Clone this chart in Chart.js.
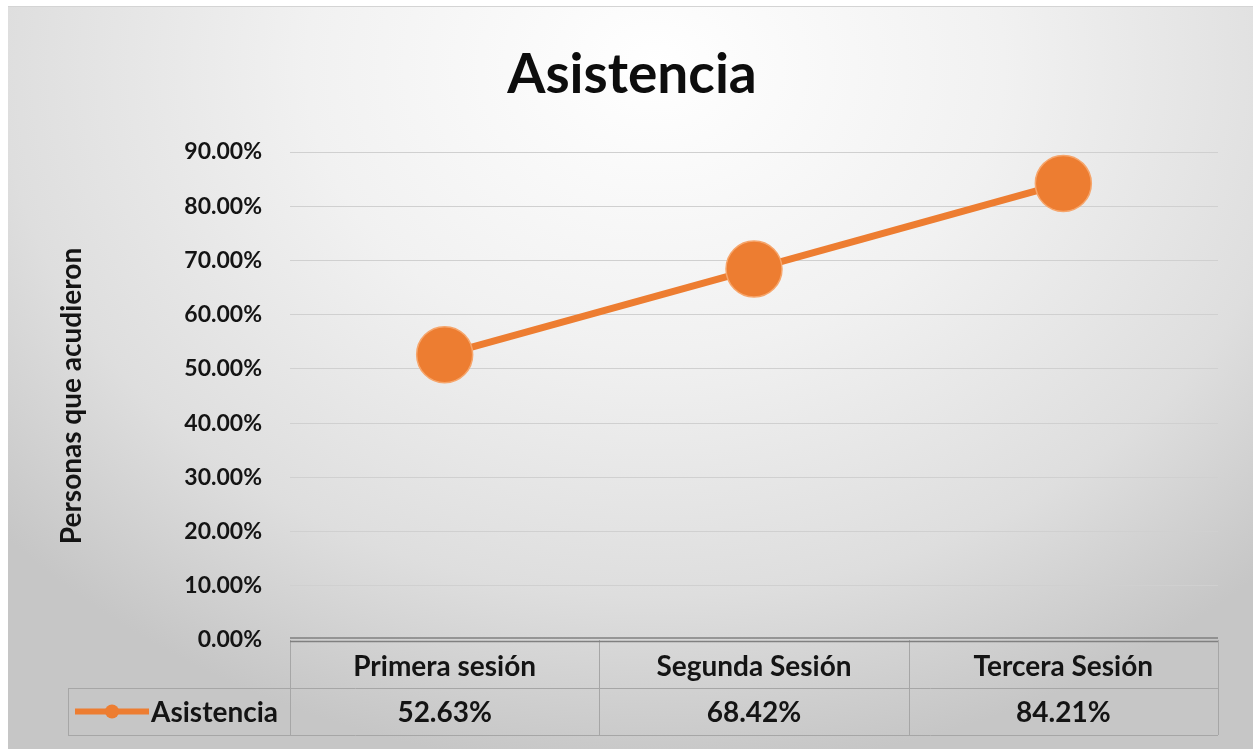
<!DOCTYPE html>
<html lang="es">
<head>
    <meta charset="UTF-8">
    <title>Asistencia</title>
    <style>
        html, body {
            margin: 0;
            padding: 0;
            background: #ffffff;
            overflow: hidden;
        }

        #chartBox {
            position: absolute;
            left: 8px;
            top: 6px;
            width: 1245px;
            height: 743px;
            border-top: 1px solid #d4d4d4;
            background: radial-gradient(ellipse 70% 95% at 52% 8%, #ffffff 0%, #f1f1f1 40%, #dedede 75%, #c6c6c6 100%);
        }

        #asistenciaChart {
            position: absolute;
            left: 0;
            top: 0;
        }
    </style>
    <script src="https://cdn.jsdelivr.net/npm/chart.js"></script>
</head>
<body>
    <div id="chartBox"></div>
    <canvas id="asistenciaChart" width="1253" height="749"></canvas>

<script>
    // Datos de la gráfica
    const categories = ['Primera sesión', 'Segunda Sesión', 'Tercera Sesión'];
    const asistencia = [0.5263, 0.6842, 0.8421];
    const valueLabels = ['52.63%', '68.42%', '84.21%'];
    const seriesName = 'Asistencia';

    const orange = '#ED7D31';
    const fontFamily = 'Lato, "Open Sans", sans-serif';
    const textColor = '#141414';

    // Tabla de datos debajo del eje X (estilo Excel)
    const dataTablePlugin = {
        id: 'dataTable',
        afterDraw(chart) {
            const ctx = chart.ctx;
            const area = chart.chartArea;
            const x = chart.scales.x;
            const colW = (area.right - area.left) / categories.length;
            const headTop = area.bottom + 3;
            const headBottom = headTop + 45;
            const rowBottom = headBottom + 47;
            const legendLeft = 68;

            ctx.save();

            // lineas finas de la tabla
            ctx.strokeStyle = '#a6a6a6';
            ctx.lineWidth = 1;
            ctx.beginPath();
            ctx.moveTo(legendLeft, headBottom + 0.5);
            ctx.lineTo(area.right, headBottom + 0.5);
            ctx.moveTo(legendLeft, rowBottom + 0.5);
            ctx.lineTo(area.right, rowBottom + 0.5);
            ctx.moveTo(legendLeft + 0.5, headBottom);
            ctx.lineTo(legendLeft + 0.5, rowBottom);
            for (let i = 0; i <= categories.length; i++) {
                const cx = Math.round(area.left + i * colW) + 0.5;
                ctx.moveTo(cx, area.bottom);
                ctx.lineTo(cx, rowBottom);
            }
            ctx.stroke();

            // doble linea del eje horizontal
            ctx.strokeStyle = '#808080';
            ctx.lineWidth = 1.5;
            ctx.beginPath();
            ctx.moveTo(area.left, area.bottom - 2);
            ctx.lineTo(area.right, area.bottom - 2);
            ctx.moveTo(area.left, area.bottom + 1.5);
            ctx.lineTo(area.right, area.bottom + 1.5);
            ctx.stroke();

            // textos
            ctx.fillStyle = textColor;
            ctx.font = 'bold 28px ' + fontFamily;
            ctx.textAlign = 'center';
            ctx.textBaseline = 'middle';
            categories.forEach((c, i) => {
                const cx = x.getPixelForValue(i);
                ctx.fillText(c, cx, (headTop + headBottom) / 2 + 1);
                ctx.fillText(valueLabels[i], cx, (headBottom + rowBottom) / 2 + 1);
            });

            // clave de leyenda
            const ly = (headBottom + rowBottom) / 2;
            ctx.strokeStyle = orange;
            ctx.lineWidth = 6;
            ctx.beginPath();
            ctx.moveTo(75, ly);
            ctx.lineTo(149, ly);
            ctx.stroke();
            ctx.fillStyle = orange;
            ctx.beginPath();
            ctx.arc(112, ly, 7, 0, Math.PI * 2);
            ctx.fill();

            ctx.fillStyle = textColor;
            ctx.textAlign = 'left';
            ctx.fillText(seriesName, 151, ly + 1);

            ctx.restore();
        }
    };

    const ctx = document.getElementById('asistenciaChart').getContext('2d');
    const asistenciaChart = new Chart(ctx, {
        type: 'line',
        data: {
            labels: categories,
            datasets: [{
                label: seriesName,
                data: asistencia,
                borderColor: orange,
                backgroundColor: orange,
                borderWidth: 7,
                pointRadius: 28,
                pointBorderWidth: 1.5,
                pointBorderColor: '#F6A56B',
                pointBackgroundColor: orange,
                tension: 0
            }]
        },
        options: {
            responsive: false,
            devicePixelRatio: 1,
            animation: false,
            layout: {
                padding: { left: 46, right: 35, top: 0, bottom: 109 }
            },
            plugins: {
                legend: { display: false },
                tooltip: { enabled: false },
                title: {
                    display: true,
                    text: 'Asistencia',
                    color: '#0d0d0d',
                    font: { family: fontFamily, size: 55, weight: 'bold', lineHeight: 1.2 },
                    padding: { top: 42, bottom: 44 }
                }
            },
            scales: {
                x: {
                    type: 'category',
                    offset: true,
                    display: false
                },
                y: {
                    min: 0,
                    max: 0.9,
                    afterFit: (scale) => { scale.width = 244; },
                    ticks: {
                        stepSize: 0.1,
                        padding: 28,
                        color: textColor,
                        font: { family: fontFamily, size: 23, weight: 'bold' },
                        callback: (v) => (v * 100).toFixed(2) + '%'
                    },
                    grid: {
                        color: (c) => c.tick.value === 0 ? 'rgba(0,0,0,0)' : '#d0d0d0',
                        lineWidth: 1,
                        drawTicks: false
                    },
                    border: { display: false },
                    title: {
                        display: true,
                        text: 'Personas que acudieron',
                        color: textColor,
                        font: { family: fontFamily, size: 28, weight: 'bold' },
                        padding: { top: 9, bottom: 0 }
                    }
                }
            }
        },
        plugins: [dataTablePlugin]
    });
</script>
</body>
</html>
